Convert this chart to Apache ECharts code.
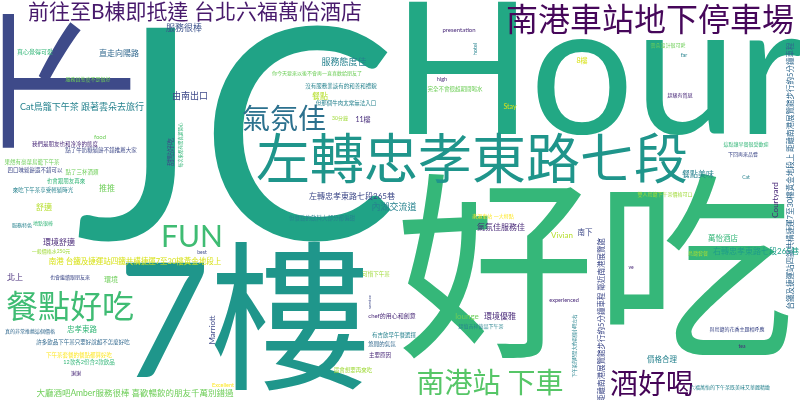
<!DOCTYPE html>
<html>
<head>
<meta charset="utf-8">
<title>word cloud</title>
<script src="https://cdn.jsdelivr.net/npm/echarts@6/dist/echarts.min.js"></script>
<style>
  html, body { margin: 0; padding: 0; background: #fff; }
  #chart { width: 800px; height: 400px; }
</style>
</head>
<body>
<div id="chart"></div>
<script>
// words, biggest first
const words = [
    'JC', 'Hour', '好吃', '7樓', '左轉忠孝東路七段', '南港車站地下停車場',
    '前往至B棟即抵達 台北六福萬怡酒店', '下', '氣氛佳', 'FUN', '餐點好吃', '南港站 下車', '酒好喝',
    '服務很棒', '直走向陽路', '真心覺得可愛', '服務員態度不是很好', 'Cat鳥籠下午茶 跟著雲朵去旅行', '由南出口',
    'food', '我們是朋友也和冷冷的態度', '點了牛奶糖鬆餅不錯推薦大家', '果然有豪華鳥籠下午茶', '四口味鬆餅還不錯可以',
    '點了三杯酒類', '也會跟朋友再來', '推推', '來吃下午茶享受輕鬆時光', '甜點好吃', '每次來都有驚喜超開心',
    '舒適', '服務特色', '地點很棒', '環境舒適', '一般價格水250元', 'best',
    '南港 台鐵及捷運站四鐵共構捷運7至30樓黃金地段上', '北上', '也會繼續跟朋友來', '環境', '忠孝東路',
    '真的非常推薦這個價格', '許多飲品下午茶只要好說超不怎麼好吃', '下午茶套餐的餐點都算好吃', '12款各2份含2款飲品', '謝謝',
    '大廳酒吧Amber服務很棒 喜歡暢飲的朋友千萬別錯過', 'Excellent', 'Marriott',
    '服務態度佳', '你今天要來以後不會再一直喜歡給朋友了', '沒有服務業該有的和善和禮貌', '餐點', '但那個牛肉太常無法入口',
    '30分鐘', '11樓', 'presentation', 'hotel', 'high', '完全不會很超期間喝水', 'Stay', '左轉忠孝東路七段265巷',
    '雲朵設計很可愛', 'far', '8樓', '超級有質感', '這點讓早餐很受歡迎', '下回再來品嘗', '餐點美味', 'Cat',
    '雙人鳥籠下午茶價格可口', '台鐵及捷運站四鐵共構捷運7至30樓黃金地段上 距離南港展覽館步行約5分鐘車程', 'Courtyard',
    '萬怡酒店', '鳥籠套餐', '右轉忠孝東路七段265巷', '距離南港展覽館步行約5分鐘車程 鄰近南港展覽館', 've', 'experienced',
    '下午茶的時間大約兩個小時左右', '與鳥籠的花香主題相呼應', 'tea', '價格合理', '六福萬怡的下午茶既美味又華麗精緻',
    '南下', 'Vivian', '內湖交流道', '但餐點的飲料大部分都偏甜', '南港車站 一大特點', '氣氛佳服務佳', '可惜下午茶',
    'service', 'chef的用心和創意', 'lounge', '環境優雅', '超值吉祥飲品下午茶', '有吉飲早午餐選擇', '悠閒的氣氛',
    '主要原因', '還會想要再來吃'
];

// relative weight of each word (drawn as font size)
const weights = [
    295, 184, 200, 160, 54, 32,
    21, 150, 28, 30, 32, 28, 28,
    9, 8, 6, 5, 9, 9,
    6, 5.5, 5.5, 5.5, 5.5,
    5.5, 5.5, 8, 5.5, 7, 4.5,
    8, 5, 5, 8, 5, 5,
    7.5, 8, 5, 7, 7.5,
    5, 5.5, 5.5, 5.5, 5,
    8.5, 5.5, 8,
    9, 5, 5.5, 8, 5.5,
    5, 7, 6, 5.5, 5.5, 5.5, 7, 8,
    5, 5.5, 7, 5, 5, 5, 8, 5,
    5, 7.5, 8,
    7.5, 5, 8, 7.5, 5, 5.5,
    4.5, 5, 5, 7.5, 5,
    7.5, 8, 9, 5.5, 5, 8, 5.5,
    4.5, 6, 8, 8, 5, 5.5, 5.5,
    5.5, 5.5
];

// where each word sits on the 800 x 400 board
const posX = [
    236, 598, 595, 244, 472, 650,
    195, 70, 284, 192, 70, 490, 652,
    184, 119, 35, 88, 82, 190,
    100, 65, 101, 32, 35,
    82, 66, 107, 43, 171, 181,
    44, 22, 43, 59, 51, 202,
    135, 15, 70, 111, 82,
    30, 83, 79, 89, 76,
    135, 223, 212,
    344, 317, 341, 320, 346,
    340, 363, 459, 475, 442, 455, 510, 352,
    668, 684, 582, 680, 746, 743, 698, 746,
    665, 791, 775,
    723, 698, 756, 602, 631, 564,
    575, 737, 742, 662, 730,
    585, 562, 394, 322, 493, 501, 376,
    370, 392, 467, 500, 481, 394, 382,
    380, 353
];
const posY = [
    144, 75, 277, 325, 162, 21,
    12, 81, 120, 237, 308, 384, 385,
    28, 53, 52, 79, 107, 96,
    137, 144, 150, 162, 170,
    172, 181, 188, 190, 152, 145,
    207, 225, 223, 242, 251, 252,
    262, 277, 277, 280, 330,
    331, 342, 355, 362, 373,
    393, 385, 330,
    62, 73, 86, 96, 103,
    118, 120, 30, 49, 79, 89, 107, 196,
    45, 55, 61, 95, 144, 154, 174, 177,
    194, 176, 200,
    239, 253, 251, 320, 267, 300,
    346, 329, 346, 360, 387,
    233, 235, 207, 218, 216, 227, 274,
    302, 316, 316, 316, 326, 335, 344,
    355, 370
];

// words laid on their side (read bottom to top)
const upright = ['下', '甜點好吃', '每次來都有驚喜超開心', 'Marriott', 'hotel', 'Courtyard',
    '台鐵及捷運站四鐵共構捷運7至30樓黃金地段上 距離南港展覽館步行約5分鐘車程',
    '距離南港展覽館步行約5分鐘車程 鄰近南港展覽館', '下午茶的時間大約兩個小時左右', 'service'];

// viridis-like tones, one per word
const tones = [
    '#20a386', '#22a884', '#35b779', '#1f968b', '#1f958b', '#46075a',
    '#481a6c', '#3e4a89', '#2c718e', '#3fbc73', '#3fbc73', '#56c667', '#450457',
    '#3b528b', '#31688e', '#35b779', '#6ece58', '#26828e', '#3e4989',
    '#6ece58', '#482878', '#3e4989', '#6ece58', '#3e4989',
    '#6ece58', '#35b779', '#6ece58', '#26828e', '#3e4989', '#35b779',
    '#b5de2b', '#26828e', '#35b779', '#482878', '#a0da39', '#3e4989',
    '#d8e219', '#472d7b', '#3e4989', '#6ece58', '#35b779',
    '#31688e', '#31688e', '#fde725', '#35b779', '#482878',
    '#6ece58', '#fde725', '#3e4989',
    '#26828e', '#6ece58', '#26828e', '#b5de2b', '#26828e',
    '#a0da39', '#472d7b', '#482878', '#26828e', '#482878', '#6ece58', '#d8e219', '#3e4989',
    '#6ece58', '#26828e', '#d8e219', '#482878', '#35b779', '#3e4989', '#26828e', '#26828e',
    '#a0da39', '#31688e', '#482878',
    '#35b779', '#a0da39', '#1f9e89', '#3e4989', '#482878', '#482878',
    '#26828e', '#3e4989', '#482878', '#26828e', '#26828e',
    '#3e4989', '#b5de2b', '#26828e', '#26828e', '#fde725', '#482878', '#a0da39',
    '#3e4989', '#482878', '#6ece58', '#482878', '#26828e', '#26828e', '#31688e',
    '#482878', '#a0da39'
];

const chart = echarts.init(document.getElementById('chart'), null, { renderer: 'canvas' });

const cloud = words.map(function (w, i) {
    return {
        name: w,
        value: [posX[i], posY[i]],
        label: {
            fontSize: weights[i],
            color: tones[i],
            rotate: upright.indexOf(w) >= 0 ? 90 : 0
        }
    };
});

chart.setOption({
    backgroundColor: '#fff',
    animation: false,
    grid: { left: 0, right: 0, top: 0, bottom: 0 },
    xAxis: { type: 'value', min: 0, max: 800, show: false },
    yAxis: { type: 'value', min: 0, max: 400, inverse: true, show: false },
    series: [{
        type: 'scatter',
        symbolSize: 0,
        silent: true,
        clip: false,
        itemStyle: { opacity: 1 },
        label: {
            show: true,
            position: 'inside',
            formatter: '{b}',
            // latin in Lato, the rest falls back to the CJK face
            fontFamily: 'Lato, "Noto Sans CJK TC", sans-serif',
            fontWeight: 'normal'
        },
        emphasis: { disabled: true },
        data: cloud
    }]
});
</script>
</body>
</html>
